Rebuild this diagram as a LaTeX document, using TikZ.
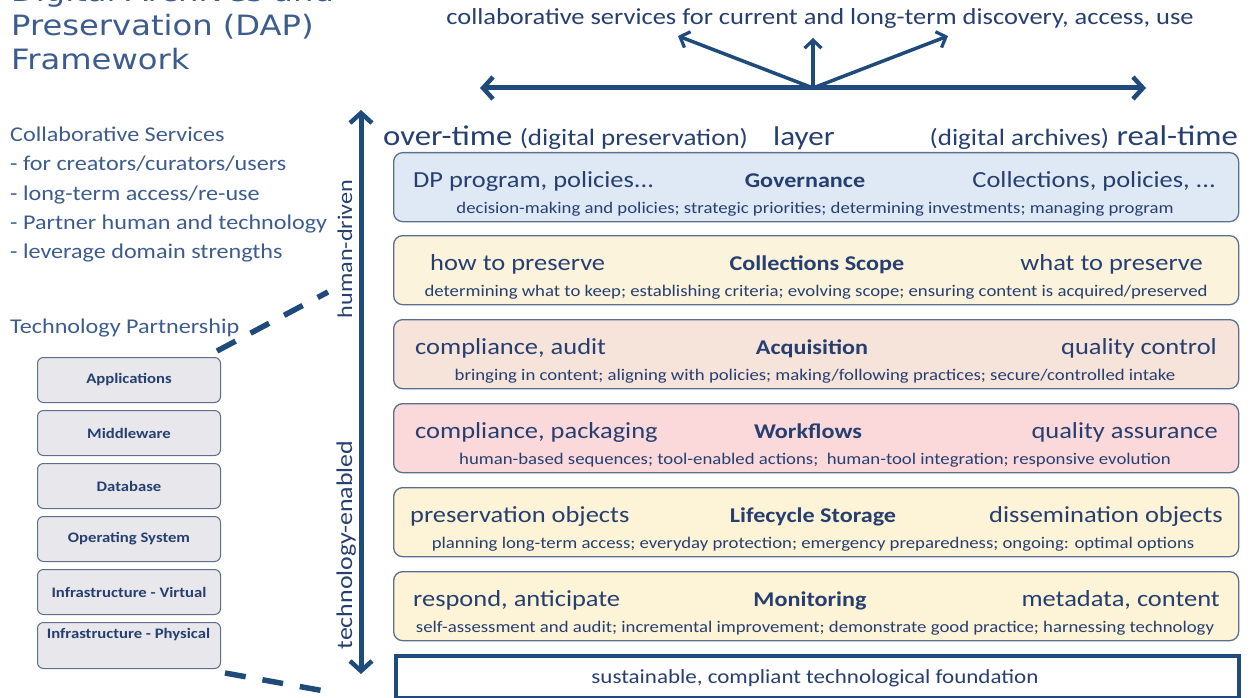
\documentclass[tikz,border=0pt]{standalone}
\usepackage{fontspec}
\setmainfont{Carlito}[FakeStretch=1.15]
\newfontfamily\titlefont{DejaVu Sans}[FakeStretch=1.15]
\usetikzlibrary{arrows.meta}
\definecolor{navy}{HTML}{1F4A7C}
\definecolor{txt}{HTML}{263F70}
\definecolor{lighttxt}{HTML}{3D5C8E}
\definecolor{boxline}{HTML}{5C6F8E}
\definecolor{govfill}{HTML}{DFE9F5}
\definecolor{yelfill}{HTML}{FBF3DB}
\definecolor{acqfill}{HTML}{F6E3DA}
\definecolor{wffill}{HTML}{FBD9DA}
\definecolor{lifefill}{HTML}{FDF3D6}
\definecolor{techfill}{HTML}{E8E8EC}
\newcommand{\fs}[1]{\fontsize{#1}{#1}\selectfont}
\tikzset{
  layer/.style={draw=boxline, line width=1.3pt, rounded corners=9pt, minimum width=845pt, minimum height=69pt, anchor=north west, inner sep=0pt},
  ltxt/.style={anchor=base west, inner sep=0pt, text=txt, font=\fs{23}},
  rtxt/.style={anchor=base east, inner sep=0pt, text=txt, font=\fs{23}},
  ctxt/.style={anchor=base, inner sep=0pt, text=txt, font=\fs{21}\bfseries},
  stxt/.style={anchor=base, inner sep=0pt, text=txt, font=\fs{16.3}},
  techbox/.style={draw=boxline, line width=1pt, rounded corners=6pt, fill=techfill, minimum width=183pt, minimum height=45pt, anchor=north west, inner sep=0pt},
  techtxt/.style={anchor=center, inner sep=0pt, text=txt, font=\fs{14.5}\bfseries},
  bigtip/.tip={Straight Barb[length=10pt,width=22pt,line width=4.5pt]},
  smalltip/.tip={Straight Barb[length=8pt,width=17pt,line width=3.2pt]},
  bigarrow/.style={draw=navy, line width=5pt, -bigtip},
  smallarrow/.style={draw=navy, line width=3.5pt, -smalltip},
  dasher/.style={draw=navy, line width=5.5pt, dash pattern=on 21pt off 17pt}
}
\begin{document}
\begin{tikzpicture}[x=1pt,y=-1pt]
\useasboundingbox (0,0) rectangle (1253,698);
\begin{scope}
\clip (0,0) rectangle (1253,698);
% title
\node[anchor=base west, inner sep=0pt, text=lighttxt, font=\titlefont\fs{28}] (t1) at (11,2) {Digital Archives and};
\node[anchor=base west, inner sep=0pt, text=lighttxt, font=\titlefont\fs{28}] (t2) at (11,36) {Preservation (DAP)};
\node[anchor=base west, inner sep=0pt, text=lighttxt, font=\titlefont\fs{28}] (t3) at (11,70) {Framework};

% top services
\node[anchor=base, inner sep=0pt, text=txt, font=\fs{23}] (svc) at (820,25) {collaborative services for current and long-term discovery, access, use};
\coordinate (hc) at (813,88);
\coordinate (hl) at (480,88);
\coordinate (hr) at (1146,88);
\coordinate (ul) at (678,36);
\coordinate (uc) at (813,38);
\coordinate (ur) at (948,36);
\draw[bigarrow] (hc) -- (hl);
\draw[bigarrow] (hc) -- (hr);
\draw[smallarrow] (hc) -- (ul);
\draw[smallarrow] (hc) -- (uc);
\draw[smallarrow] (hc) -- (ur);

% left texts
\node[anchor=base west, inner sep=0pt, text=lighttxt, font=\fs{21}] (cs) at (10,142) {Collaborative Services};
\node[anchor=base west, inner sep=0pt, text=lighttxt, font=\fs{21}] (cs1) at (10,171) {- for creators/curators/users};
\node[anchor=base west, inner sep=0pt, text=lighttxt, font=\fs{21}] (cs2) at (10,200) {- long-term access/re-use};
\node[anchor=base west, inner sep=0pt, text=lighttxt, font=\fs{21}] (cs3) at (10,229) {- Partner human and technology};
\node[anchor=base west, inner sep=0pt, text=lighttxt, font=\fs{21}] (cs4) at (10,258) {- leverage domain strengths};
\node[anchor=base west, inner sep=0pt, text=lighttxt, font=\fs{21}] (tp) at (10,333) {Technology Partnership};

% tech stack
\node[techbox] (app) at (37,357) {};
\node[techtxt] (appt) at (app.center) {Applications};
\node[techbox] (mid) at (37,410) {};
\node[techtxt] (midt) at (mid.center) {Middleware};
\node[techbox] (db) at (37,463) {};
\node[techtxt] (dbt) at (db.center) {Database};
\node[techbox] (os) at (37,516) {};
\node[techtxt] (ost) at (os.center) {Operating System};
\node[techbox] (iv) at (37,569) {};
\node[techtxt] (ivt) at (iv.center) {Infrastructure - Virtual};
\node[techbox, minimum height=46pt] (ip) at (37,622) {};
\node[techtxt] (ipt) at (128.5,635) {Infrastructure - Physical};

% dashed connectors
\coordinate (dts) at (217,351);
\coordinate (dt) at (328,292);
\coordinate (dbs) at (225,673);
\coordinate (db2) at (330,692);
\draw[dasher] (dts) -- (dt);
\draw[dasher] (dbs) -- (db2);

% vertical arrow
\coordinate (vt) at (361,110);
\coordinate (vb) at (361,674);
\draw[draw=navy, line width=5pt, bigtip-bigtip] (vt) -- (vb);
\node[rotate=90, anchor=base, inner sep=0pt, text=txt, font=\fs{21}] (hd) at (352,249) {human-driven};
\node[rotate=90, anchor=base, inner sep=0pt, text=txt, font=\fs{22.5}] (te) at (352,545) {technology-enabled};

% header
\node[anchor=base west, inner sep=0pt, text=txt, font=\fs{28.5}] (ot) at (383,146) {over-time {\fs{23.5}(digital preservation)}};
\node[anchor=base west, inner sep=0pt, text=txt, font=\fs{27}] (ly) at (773,146) {layer};
\node[anchor=base east, inner sep=0pt, text=txt, font=\fs{28.5}] (rt) at (1238,146) {{\fs{23.5}(digital archives)} real-time};

% layers
\node[layer, fill=govfill] (gov) at (393,152) {};
\node[ltxt] (govl) at (413,187) {DP program, policies...};
\node[ctxt] (govc) at (805,187) {Governance};
\node[rtxt] (govr) at (1216,187) {Collections, policies, ...};
\node[stxt] (govs) at (815,213) {decision-making and policies; strategic priorities; determining investments; managing program};

\node[layer, fill=yelfill] (col) at (393,235) {};
\node[ltxt] (coll) at (430,270) {how to preserve};
\node[ctxt] (colc) at (817,270) {Collections Scope};
\node[rtxt] (colr) at (1203,270) {what to preserve};
\node[stxt] (cols) at (816,296) {determining what to keep; establishing criteria; evolving scope; ensuring content is acquired/preserved};

\node[layer, fill=acqfill] (acq) at (393,319) {};
\node[ltxt] (acql) at (415,354) {compliance, audit};
\node[ctxt] (acqc) at (812,354) {Acquisition};
\node[rtxt] (acqr) at (1217,354) {quality control};
\node[stxt] (acqs) at (815,380) {bringing in content; aligning with policies; making/following practices; secure/controlled intake};

\node[layer, fill=wffill] (wf) at (393,403) {};
\node[ltxt] (wfl) at (415,438) {compliance, packaging};
\node[ctxt] (wfc) at (808,438) {Workflows};
\node[rtxt] (wfr) at (1218,438) {quality assurance};
\node[stxt] (wfs) at (815,464) {human-based sequences; tool-enabled actions;\ \ human-tool integration; responsive evolution};

\node[layer, fill=lifefill] (lc) at (393,487) {};
\node[ltxt] (lcl) at (410,522) {preservation objects};
\node[ctxt] (lcc) at (813,522) {Lifecycle Storage};
\node[rtxt] (lcr) at (1223,522) {dissemination objects};
\node[stxt] (lcs) at (813,548) {planning long-term access; everyday protection; emergency preparedness; ongoing: optimal options};

\node[layer, fill=lifefill] (mon) at (393,571) {};
\node[ltxt] (monl) at (413,606) {respond, anticipate};
\node[ctxt] (monc) at (810,606) {Monitoring};
\node[rtxt] (monr) at (1220,606) {metadata, content};
\node[stxt] (mons) at (815,632) {self-assessment and audit; incremental improvement; demonstrate good practice; harnessing technology};

% foundation
\node[draw=navy, line width=4pt, fill=white, minimum width=843pt, minimum height=42pt, anchor=north west, inner sep=0pt] (fd) at (394,654) {};
\node[anchor=base, inner sep=0pt, text=txt, font=\fs{20}] (fdt) at (815,683) {sustainable, compliant technological foundation};
\end{scope}
\end{tikzpicture}
\end{document}
